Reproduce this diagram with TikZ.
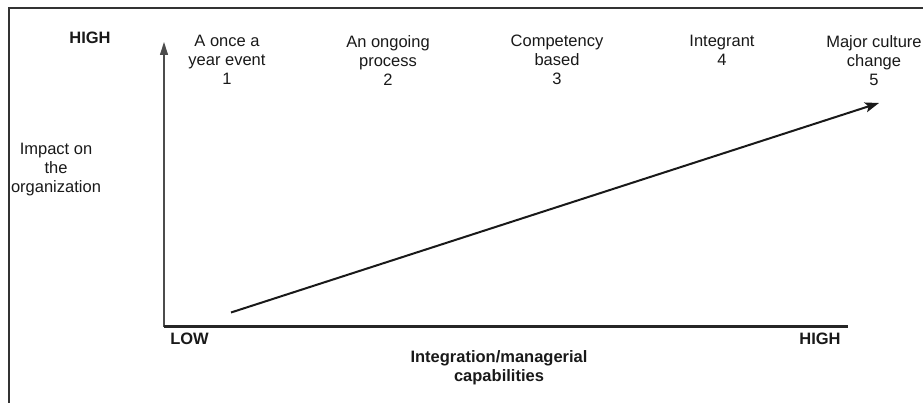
\documentclass[tikz,border=0pt]{standalone}
\usepackage{fontspec}
\setmainfont{Liberation Sans}
\usetikzlibrary{arrows.meta}

\begin{document}
\begin{tikzpicture}[x=1pt,y=-1pt,font=\fontsize{16.5}{19}\selectfont,
  stage/.style={align=center,anchor=north,inner sep=0pt,text=black!90},
  axislbl/.style={anchor=north,inner sep=0pt,font=\fontsize{16.5}{19}\selectfont\bfseries,text=black!90}]
\useasboundingbox (0,0) rectangle (923,403);
\coordinate (O) at (164,326.5);
\coordinate (Ytop) at (164,42);
\coordinate (Xend) at (848,326.5);
\coordinate (S) at (231,312.5);
\coordinate (E) at (879,103);
% frame (cut off at right and bottom)
\draw[line width=1.6pt,black!80] (9,403) -- (9,8) -- (923,8);
% axes
\draw[line width=1.1pt,black!70,-{Triangle[length=13pt,width=8pt]}] (O) -- (Ytop);
\draw[line width=2.2pt,black!85] (O) -- (Xend);
\draw[line width=2pt,black!90,-{Stealth[length=14pt,width=10pt,inset=3pt]}] (S) -- (E);
% axis labels
\node[axislbl] (yhigh) at (90,32) {HIGH};
\node[axislbl] (xlow) at (189.5,333) {LOW};
\node[axislbl] (xhigh) at (820,333) {HIGH};
\node[axislbl,align=center] (xname) at (499,350) {Integration/managerial\\capabilities};
\node[stage] (yname) at (56,143) {Impact on\\the\\organization};
% stages
\node[stage] (s1) at (227,35) {A once a\\year event\\1};
\node[stage] (s2) at (388,35) {An ongoing\\process\\2};
\node[stage] (s3) at (557,35) {Competency\\based\\3};
\node[stage] (s4) at (722,35) {Integrant\\4};
\node[stage] (s5) at (874,35) {Major culture\\change\\5};
\end{tikzpicture}
\end{document}
